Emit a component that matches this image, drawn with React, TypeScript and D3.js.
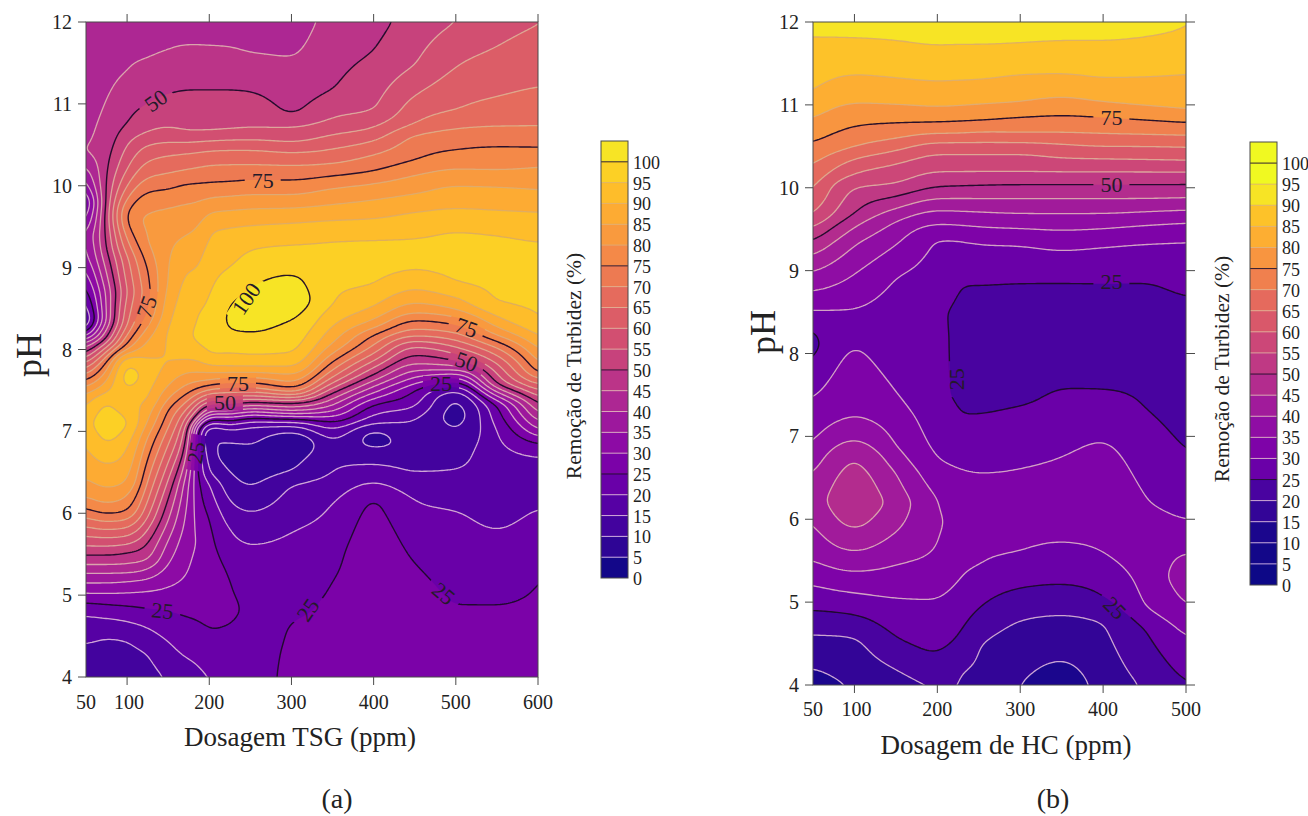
import React, { useMemo } from "react";
import * as d3 from "d3";

// ---- Panel (a): each profile is pH, removal, pH, removal ... read along one dosage
const dosesA = [50, 75, 100, 125, 150, 175, 185, 200, 225, 250, 300, 350, 400, 450, 500, 550, 600];
const a50 = [4,12,4.42,15,4.76,20,4.91,25,5.02,30,5.15,35,5.27,40,5.37,45,5.49,50,5.6,55,5.72,60,5.84,65,5.95,70,6.06,75,6.2,80,6.42,85,6.85,90,7.1,93,7.3,90,7.45,85,7.54,80,7.62,75,7.69,70,7.76,65,7.83,60,7.89,55,7.95,50,8.02,45,8.08,40,8.14,32,8.22,22,8.35,12,8.55,18,8.8,25,9.1,32,9.4,35,9.6,28,9.8,22,10,32,10.4,45,11.2,42,11.45,39.8,11.6,42,12,43];
const a75 = [4,13,4.5,15,4.72,20,4.89,25,5.02,30,5.15,35,5.27,40,5.37,45,5.49,50,5.6,55,5.7,60,5.8,65,5.9,70,5.99,75,6.12,80,6.3,85,6.6,90,6.85,95,7.1,98,7.37,95,7.48,90,7.62,85,7.74,80,7.85,75,7.91,70,7.97,65,8.03,60,8.08,55,8.14,50,8.35,40,8.7,41,9.24,50,9.6,52,10.1,50,10.6,47,11.05,45,11.5,43,12,42];
const a100 = [4,13,4.47,15,4.68,20,4.87,25,5.03,30,5.17,35,5.27,40,5.38,45,5.52,50,5.62,55,5.72,60,5.82,65,5.92,70,6.02,75,6.2,80,6.37,85,6.77,90,7.1,96,7.35,91,7.52,95,7.68,98,7.84,95,7.92,90,8,80,8.08,75,8.3,65,8.7,60,9.1,64,9.52,75,9.62,76,9.71,75,9.85,70,10,65,10.2,60,10.5,55,10.76,50,11.4,45,12,43];
const a125 = [4,13.5,4.3,15,4.6,20,4.84,25,5.05,30,5.2,35,5.32,40,5.42,45,5.63,50,5.8,55,5.95,60,6.15,65,6.4,70,6.67,75,6.94,80,7.12,85,7.38,90,7.7,93,7.9,90,8.12,85,8.28,80,8.44,75,8.7,73,8.97,75,9.3,80,9.6,81,9.8,78,9.93,75,10.1,70,10.3,65,10.5,60,10.65,55,11,50,11.55,45,12,43];
const a150 = [4,15.5,4.43,20,4.81,25,5.1,30,5.4,35,5.68,40,5.92,45,6.18,50,6.4,55,6.62,60,6.84,65,7.05,70,7.27,75,7.4,80,7.55,85,7.8,90,8.2,90.5,8.8,85.5,9.3,84,9.74,80,9.96,75,10.15,70,10.37,65,10.53,60,10.7,55,11.12,50,11.65,45,12,43.5];
const a175 = [4,18,4.21,20,4.72,25,5.29,30,6,33,6.35,35,6.6,40,6.8,45,7.02,50,7.12,55,7.2,60,7.29,65,7.38,70,7.47,75,7.58,80,7.72,85,7.87,90,8.1,95,8.25,95,8.6,92.5,9,90,9.42,85,9.79,80,10.03,75,10.2,70,10.4,65,10.53,60,10.65,55,11.17,50,11.72,45,12,43];
const a185 = [4,19,4.17,20,4.68,25,5.3,28,5.64,30,6.2,27,6.53,25,6.85,24,7,25,7.06,30,7.12,40,7.18,50,7.26,55,7.32,60,7.38,65,7.45,70,7.52,75,7.6,80,7.72,85,7.88,90,8.05,95,8.45,95,8.8,91,9.2,88,9.45,85,9.8,80,10.03,75,10.22,70,10.41,65,10.54,60,10.65,55,11.17,50,11.72,45,12,43];
const a200 = [4,20,4.56,25,5.3,28,5.96,25,6.37,20,6.49,15,6.8,11,6.97,9,7.03,13,7.08,15,7.11,20,7.15,25,7.18,30,7.21,35,7.25,40,7.29,45,7.33,50,7.37,55,7.41,60,7.46,65,7.51,70,7.56,75,7.62,80,7.72,85,7.8,90,7.91,95,8.2,97,8.69,95,9.45,90,9.68,85,9.85,80,10.04,75,10.25,70,10.43,65,10.55,60,10.65,55,11.17,50,11.72,45,12,42];
const a225 = [4,21.5,4.64,25,4.9,26,5.19,25,5.8,20,6.14,15,6.5,10,6.7,8,6.88,10,7.04,15,7.08,20,7.13,25,7.17,30,7.21,35,7.25,40,7.29,45,7.33,50,7.38,55,7.42,60,7.47,65,7.53,70,7.59,75,7.65,80,7.72,85,7.78,90,7.95,95,8.22,100,8.4,101,8.55,100,9,95,9.5,90,9.7,85,9.87,80,10.05,75,10.26,70,10.44,65,10.56,60,10.67,55,11.17,50,11.7,45,12,42];
const a250 = [4,23,4.8,24.5,5.63,20,6.02,15,6.33,10,6.6,7,6.85,10,7.08,15,7.12,20,7.16,25,7.2,30,7.24,35,7.28,40,7.32,45,7.35,50,7.39,55,7.43,60,7.48,65,7.53,70,7.59,75,7.66,80,7.72,85,7.78,90,7.93,95,8.19,100,8.5,102,8.76,100,9.22,95,9.52,90,9.72,85,9.89,80,10.07,75,10.26,70,10.44,65,10.56,60,10.69,55,11.15,50,11.62,45,12,42.5];
const a300 = [4,26,4.66,25,5.3,23,5.77,20,6.35,15,6.51,10,6.7,8,6.88,3.5,6.98,10,7.08,15,7.12,20,7.15,25,7.18,30,7.21,35,7.25,40,7.3,45,7.35,50,7.38,55,7.41,60,7.44,65,7.48,70,7.53,75,7.6,80,7.7,85,7.78,90,7.95,95,8.35,100,8.6,103,8.92,100,9.28,95,9.55,90,9.73,85,9.89,80,10.07,75,10.25,70,10.41,65,10.53,60,10.72,55,10.86,50,11.57,45,12,43];
const a350 = [4,28,5.15,25,5.6,23,6.12,20,6.5,15,6.8,13,6.92,15,7.04,20,7.12,25,7.18,30,7.25,35,7.32,40,7.4,45,7.47,50,7.53,55,7.59,60,7.66,65,7.75,70,7.85,75,7.95,80,8.07,85,8.28,90,8.54,95,8.95,97,9.34,95,9.58,90,9.77,85,9.97,80,10.12,75,10.27,70,10.45,65,10.62,60,10.82,55,11.17,50,12,46.5];
const a400 = [4,29,5.5,28.5,6.18,25,6.37,20,6.6,15,6.8,10,6.9,8,7.03,10,7.08,15,7.2,20,7.33,25,7.4,30,7.47,35,7.55,40,7.62,45,7.69,50,7.78,55,7.86,60,7.95,65,8.05,70,8.18,75,8.26,80,8.36,85,8.52,90,8.79,95,9.1,97,9.35,95,9.6,90,9.83,85,10.03,80,10.18,75,10.38,70,10.55,65,10.71,60,10.92,55,11.65,50,12,48.5];
const a450 = [4,28,5,27,5.39,25,6.17,20,6.51,15,6.8,11,7.16,15,7.3,20,7.51,25,7.58,30,7.66,35,7.74,40,7.82,45,7.93,50,8.04,55,8.1,60,8.16,65,8.24,70,8.36,75,8.44,80,8.56,85,8.73,90,8.95,95,9.15,96,9.38,95,9.68,90,9.9,85,10.13,80,10.31,75,10.63,70,10.75,65,11.1,60,11.47,55,12,52];
const a500 = [4,27,4.9,25,6.04,20,6.54,15,7.04,10,7.2,8,7.41,10,7.49,15,7.55,20,7.6,25,7.65,30,7.7,35,7.75,40,7.8,45,7.85,50,7.95,55,8.03,60,8.11,65,8.2,70,8.3,75,8.4,80,8.48,85,8.63,90,8.81,95,9.1,96.5,9.46,95,9.72,90,10,85,10.2,80,10.44,75,10.7,70,10.92,65,11.45,60,12,55];
const a550 = [4,27,4.9,25,5.8,20,6.5,17,7.02,20,7.33,25,7.38,30,7.43,35,7.48,40,7.53,45,7.57,50,7.7,55,7.83,60,7.93,65,8.02,70,8.1,75,8.17,80,8.27,85,8.4,90,8.56,95,9,96.5,9.42,95,9.7,90,9.99,85,10.19,80,10.48,75,10.72,70,11.08,65,11.7,60,12,58];
const a600 = [4,27,5.2,25,6.06,20,6.4,16.5,6.7,20,6.86,25,6.94,30,7.02,35,7.12,40,7.22,45,7.33,50,7.43,55,7.5,60,7.58,65,7.64,70,7.7,75,7.83,80,8,85,8.16,90,8.36,95,8.9,96.5,9.34,95,9.68,90,9.95,85,10.23,80,10.47,75,10.72,70,11.2,65,11.96,60,12,60];
const profilesA = [a50, a75, a100, a125, a150, a175, a185, a200, a225, a250, a300, a350, a400, a450, a500, a550, a600];

// ---- Panel (b)
const dosesB = [50, 100, 150, 200, 225, 250, 300, 350, 400, 450, 500];
const b50 = [4,13,4.21,15,4.61,20,4.9,25,5.21,30,5.51,35,5.99,40,6.25,42,6.52,40,6.88,35,7.44,30,7.88,25,8.1,23,8.3,25,8.52,30,8.75,35,8.98,40,9.18,45,9.35,50,9.51,55,9.65,60,9.93,65,10.26,70,10.54,75,10.83,80,11.14,85,11.83,90,12,92];
const b100 = [4,15.5,4.59,20,4.85,25,5.11,30,5.37,35,5.61,40,5.87,45,6.2,49,6.75,45,6.96,40,7.23,35,8.1,30,8.3,27.5,8.54,30,8.96,35,9.31,40,9.53,45,9.69,50,10.01,55,10.17,60,10.35,65,10.49,70,10.74,75,11.02,80,11.36,85,11.81,90,12,92];
const b150 = [4,18,4.19,20,4.57,25,5.05,30,5.45,35,5.85,40,6.2,43,6.56,40,6.88,35,7.54,30,8.2,26,8.92,30,9.31,35,9.6,40,9.75,45,9.89,50,10.05,55,10.29,60,10.45,65,10.59,70,10.78,75,11,80,11.32,85,11.78,90,12,92.5];
const b200 = [4,20.2,4.37,25,5.03,30,5.67,35,5.95,36,6.24,35,6.72,30,7.5,25.7,8.5,25.5,9.4,30,9.56,35,9.73,40,9.87,45,10.01,50,10.19,55,10.41,60,10.55,65,10.65,70,10.79,75,10.97,80,11.28,85,11.72,90,12,93];
const b225 = [4,20,4.15,20,4.57,25,5.25,30,6,33,6.62,30,7.23,25,7.5,24.6,8.5,24.5,8.86,25,9.38,30,9.55,35,9.72,40,9.87,45,10.02,50,10.19,55,10.41,60,10.55,65,10.65,70,10.8,75,10.98,80,11.29,85,11.73,90,12,93];
const b250 = [4,19,4.49,20,4.93,25,5.43,30,6,32,6.57,30,7.25,25,8,23,8.85,25,9.33,30,9.53,35,9.71,40,9.87,45,10.03,50,10.19,55,10.41,60,10.55,65,10.67,70,10.81,75,11,80,11.3,85,11.73,90,12,93];
const b300 = [4,15,4.79,20,5.17,25,5.6,30,6.1,32,6.62,30,7.36,25,8,21,8.86,25,9.31,30,9.51,35,9.69,40,9.87,45,10.04,50,10.19,55,10.41,60,10.55,65,10.66,70,10.85,75,11.03,80,11.36,85,11.75,90,12,93];
const b350 = [4,12,4.3,15,4.85,20,5.21,25,5.72,30,6.2,33,6.75,30,7.58,25,8.2,21,8.86,25,9.25,30,9.49,35,9.69,40,9.87,45,10.04,50,10.19,55,10.36,60,10.53,65,10.66,70,10.87,75,11.09,80,11.37,85,11.78,90,12,93];
const b400 = [4,17,4.77,20,5.07,25,5.6,30,6.3,34,6.95,30,7.56,25,8.2,22,8.86,25,9.29,30,9.51,35,9.69,40,9.87,45,10.04,50,10.19,55,10.35,60,10.5,65,10.65,70,10.85,75,11.03,80,11.32,85,11.79,90,12,94];
const b450 = [4,20.5,4.68,25,4.95,30,5.6,33,6.27,30,7.34,25,8.2,22.5,8.87,25,9.33,30,9.55,35,9.71,40,9.87,45,10.04,50,10.19,55,10.34,60,10.5,65,10.64,70,10.82,75,10.98,80,11.33,85,11.84,90,12,94];
const b500 = [4,24.8,4.57,30,4.95,35,5.3,38,5.6,35,5.98,30,6.8,25,7.8,22,8.7,25,9.36,30,9.58,35,9.73,40,9.88,45,10.04,50,10.19,55,10.33,60,10.49,65,10.63,70,10.79,75,10.93,80,11.36,85,12,90];
const profilesB = [b50, b100, b150, b200, b225, b250, b300, b350, b400, b450, b500];

// ---- Ticks and legend values
const levels = d3.range(0, 105, 5);
const phTicks = [4, 5, 6, 7, 8, 9, 10, 11, 12];
const doseTicksA = [100, 200, 300, 400, 500, 600];
const doseTicksB = [100, 200, 300, 400, 500];
const doseLabelsA = [50, 100, 200, 300, 400, 500, 600];
const doseLabelsB = [50, 100, 200, 300, 400, 500];
const legendLevels = d3.range(0, 105, 5);

// Contour labels: dose, pH, text, rotation
const labelsA: [number, number, string, number][] = [
  [135, 11.04, "50", -35], [265, 10.06, "75", 0], [124, 8.52, "75", -70], [245, 8.62, "100", -55],
  [513, 8.27, "75", 20], [513, 7.85, "50", 20], [482, 7.58, "25", 0], [235, 7.58, "75", 0],
  [219, 7.35, "50", 0], [184, 6.74, "25", -80], [143, 4.81, "25", 5], [320, 4.82, "25", -55], [485, 5.02, "25", 40],
];
const labelsB: [number, number, string, number][] = [
  [410, 10.85, "75", 0], [410, 10.04, "50", 0], [410, 8.87, "25", 0], [223, 7.69, "25", -90], [414, 4.93, "25", 45],
];

// Plasma positions of each 5% band
const plasmaA = levels.map((l) => (l + 1) / 106);
const plasmaB = [0, 0.01, 0.02, 0.07, 0.12, 0.2, 0.25, 0.3, 0.35, 0.41, 0.45, 0.5, 0.56, 0.62, 0.69, 0.75, 0.82, 0.87, 0.95, 1, 1];

const serif = "'Liberation Serif', 'Times New Roman', serif";
const ink = "#222";
const axisColor = "#4a4a4a";
const lineTint = d3.interpolateRgb("#e8c8f8", "#d8a85c");

function at(knots: number[], ph: number) {
  const n = knots.length / 2;
  if (ph <= knots[0]) return knots[1];
  for (let k = 1; k < n; k++) {
    if (ph <= knots[2 * k]) {
      const t = (ph - knots[2 * k - 2]) / (knots[2 * k] - knots[2 * k - 2]);
      return knots[2 * k - 1] + t * (knots[2 * k + 1] - knots[2 * k - 1]);
    }
  }
  return knots[2 * n - 1];
}

// Monotone cubic between dose columns, so contours do not kink at each column
function tangents(xs: number[], ys: number[]) {
  const n = xs.length;
  const m = new Array(n).fill(0);
  for (let i = 1; i < n - 1; i++) {
    const h0 = xs[i] - xs[i - 1], h1 = xs[i + 1] - xs[i];
    const s0 = (ys[i] - ys[i - 1]) / h0, s1 = (ys[i + 1] - ys[i]) / h1;
    const p = (s0 * h1 + s1 * h0) / (h0 + h1);
    m[i] = (Math.sign(s0) + Math.sign(s1)) * Math.min(Math.abs(s0), Math.abs(s1), 0.5 * Math.abs(p)) || 0;
  }
  m[0] = (3 * (ys[1] - ys[0]) / (xs[1] - xs[0]) - m[1]) / 2;
  m[n - 1] = (3 * (ys[n - 1] - ys[n - 2]) / (xs[n - 1] - xs[n - 2]) - m[n - 2]) / 2;
  return m;
}
function hermite(xs: number[], ys: number[], m: number[], i: number, d: number) {
  const h = xs[i + 1] - xs[i], t = (d - xs[i]) / h, t2 = t * t, t3 = t2 * t;
  return (2 * t3 - 3 * t2 + 1) * ys[i] + (t3 - 2 * t2 + t) * h * m[i] + (-2 * t3 + 3 * t2) * ys[i + 1] + (t3 - t2) * h * m[i + 1];
}

function Panel({ id, doses, profiles, dRange, phRange, xRange, yRange, colorsT, labels, xTicks, xLabels, rightTicks, xLabelY, title, titleX, titleY, phX, phY, tag, tagX, legend, rx, ry }: any) {
  const x = d3.scaleLinear().domain(dRange).range(xRange);
  const y = d3.scaleLinear().domain(phRange).range(yRange);
  const colors = colorsT.map((t: number) => d3.interpolatePlasma(t));

  const { fills, lines } = useMemo(() => {
    const step = 2, pad = 6;
    const nx = Math.ceil((xRange[1] - xRange[0]) / step) + 1 + 2 * pad;
    const ny = Math.ceil((yRange[1] - yRange[0]) / step) + 1 + 2 * pad;
    const data = new Float64Array(nx * ny);
    const bis = d3.bisector((v: number) => v).right;
    for (let j = 0; j < ny; j++) {
      const ph = y.invert(yRange[0] + (j - pad) * step);
      const col = profiles.map((p: number[]) => at(p, ph));
      const m = tangents(doses, col);
      for (let i = 0; i < nx; i++) {
        const d = Math.min(dRange[1], Math.max(dRange[0], x.invert(xRange[0] + (i - pad) * step)));
        const i0 = Math.min(doses.length - 2, Math.max(0, bis(doses, d) - 1));
        data[j * nx + i] = hermite(doses, col, m, i0, d);
      }
    }
    d3.blur2({ data, width: nx, height: ny }, rx, ry);
    const tx = (gx: number) => xRange[0] + (gx - 0.5 - pad) * step;
    const ty = (gy: number) => yRange[0] + (gy - 0.5 - pad) * step;
    const path = d3.geoPath(d3.geoTransform({ point(a: number, b: number) { (this as any).stream.point(tx(a), ty(b)); } }));
    const cs = d3.contours().size([nx, ny]).smooth(true).thresholds(levels)(data as any);
    return {
      fills: cs.map((c: any) => ({ v: c.value, d: path(c) || "" })),
      lines: cs.filter((c: any) => c.value > 0).map((c: any) => ({ v: c.value, d: path(c) || "" })),
    };
  }, []);

  const lH = (legend.y1 - legend.y0) / 21;
  return (
    <g fontFamily={serif} fill={ink}>
      <defs>
        <clipPath id={`${id}-clip`}><rect x={xRange[0]} y={yRange[0]} width={xRange[1] - xRange[0]} height={yRange[1] - yRange[0]} /></clipPath>
        <mask id={`${id}-gap`} maskUnits="userSpaceOnUse" x="0" y="0" width="1308" height="816">
          <rect x="0" y="0" width="1308" height="816" fill="#fff" />
          {labels.map((l: any, i: number) => (
            <rect key={i} x={-(l[2].length * 6 + 6)} y={-8} width={2 * (l[2].length * 6 + 6)} height={16} fill="#000"
              transform={`translate(${x(l[0])},${y(l[1])}) rotate(${l[3]})`} />
          ))}
        </mask>
      </defs>
      <g clipPath={`url(#${id}-clip)`}>
        {fills.map((f: any) => <path key={f.v} d={f.d} fill={colors[f.v / 5]} stroke="none" />)}
        <g mask={`url(#${id}-gap)`} fill="none">
          {lines.map((l: any) => {
            const dark = l.v % 25 === 0;
            return <path key={l.v} d={l.d} stroke={dark ? "#1c0a28" : lineTint(l.v / 100)} strokeWidth={dark ? 1.4 : 1.3} strokeOpacity={dark ? 0.95 : 0.85} />;
          })}
        </g>
      </g>
      {labels.map((l: any, i: number) => (
        <text key={i} fontSize={22} textAnchor="middle" dominantBaseline="central" fill="#241a2a"
          transform={`translate(${x(l[0])},${y(l[1])}) rotate(${l[3]})`}>{l[2]}</text>
      ))}
      <rect x={xRange[0]} y={yRange[0]} width={xRange[1] - xRange[0]} height={yRange[1] - yRange[0]} fill="none" stroke={axisColor} strokeWidth={1} />
      {phTicks.map((t) => (
        <g key={t}>
          <line x1={xRange[0] - 8} x2={xRange[0]} y1={y(t)} y2={y(t)} stroke={axisColor} />
          {rightTicks && <line x1={xRange[1]} x2={xRange[1] + 9} y1={y(t)} y2={y(t)} stroke={axisColor} />}
          <text x={xRange[0] - 14} y={y(t)} fontSize={20} textAnchor="end" dominantBaseline="central">{t}</text>
        </g>
      ))}
      {xTicks.map((t: number) => (
        <g key={t} stroke={axisColor}>
          <line x1={x(t)} x2={x(t)} y1={yRange[0] - 8} y2={yRange[0]} />
          <line x1={x(t)} x2={x(t)} y1={yRange[1]} y2={yRange[1] + 8} />
        </g>
      ))}
      {xLabels.map((t: number) => (
        <text key={t} x={x(t) + (t === 100 ? 2 : 0)} y={xLabelY} fontSize={20} textAnchor="middle" dominantBaseline="central">{t}</text>
      ))}
      <text x={titleX} y={titleY} fontSize={27} textAnchor="middle" dominantBaseline="central">{title}</text>
      <text fontSize={36} textAnchor="middle" dominantBaseline="central" transform={`translate(${phX},${phY}) rotate(-90)`}>pH</text>
      <text x={tagX} y={798} fontSize={28} textAnchor="middle" dominantBaseline="central">{tag}</text>

      {legendLevels.map((v, i) => {
        const top = legend.y1 - (i + 1) * lH;
        return <rect key={v} x={legend.x} y={top} width={legend.w} height={lH} fill={colors[i]} />;
      })}
      {legendLevels.map((v, i) => {
        const py = legend.y1 - i * lH;
        const dark = v % 25 === 0 && v > 0;
        return (
          <g key={v}>
            {v > 0 && <line x1={legend.x} x2={legend.x + legend.w} y1={py} y2={py} stroke={dark ? "#1c0a28" : lineTint(v / 100)} strokeOpacity={dark ? 0.9 : 0.8} />}
            <text x={legend.x + legend.w + legend.gap} y={py + 1} fontSize={18} dominantBaseline="central">{v}</text>
          </g>
        );
      })}
      <rect x={legend.x} y={legend.y0} width={legend.w} height={legend.y1 - legend.y0} fill="none" stroke={axisColor} />
      <text fontSize={21.5} textAnchor="middle" dominantBaseline="central" transform={`translate(${legend.titleX},${legend.titleY}) rotate(-90)`}>Remoção de Turbidez (%)</text>
    </g>
  );
}

export default function App() {
  return (
    <svg width={1308} height={816} style={{ position: "absolute", left: 0, top: 0, background: "#fff" }}>
      <Panel id="a" doses={dosesA} profiles={profilesA} dRange={[50, 600]} phRange={[12, 4]} xRange={[86, 538]} yRange={[22, 677]}
        colorsT={plasmaA} labels={labelsA} xTicks={doseTicksA} xLabels={doseLabelsA} rightTicks={false} xLabelY={702} rx={2.5} ry={1.5}
        title="Dosagem TSG (ppm)" titleX={300} titleY={737} phX={29} phY={355} tag="(a)" tagX={337}
        legend={{ x: 601, w: 27, y0: 141, y1: 578, gap: 5, titleX: 574, titleY: 366 }} />
      <Panel id="b" doses={dosesB} profiles={profilesB} dRange={[50, 500]} phRange={[12, 4]} xRange={[813, 1186]} yRange={[22, 685]}
        colorsT={plasmaB} labels={labelsB} xTicks={doseTicksB} xLabels={doseLabelsB} rightTicks={true} xLabelY={709} rx={4} ry={1.5}
        title="Dosagem de HC (ppm)" titleX={1006} titleY={745} phX={763} phY={332} tag="(b)" tagX={1053}
        legend={{ x: 1250, w: 27, y0: 142, y1: 585, gap: 5, titleX: 1222, titleY: 369 }} />
    </svg>
  );
}
